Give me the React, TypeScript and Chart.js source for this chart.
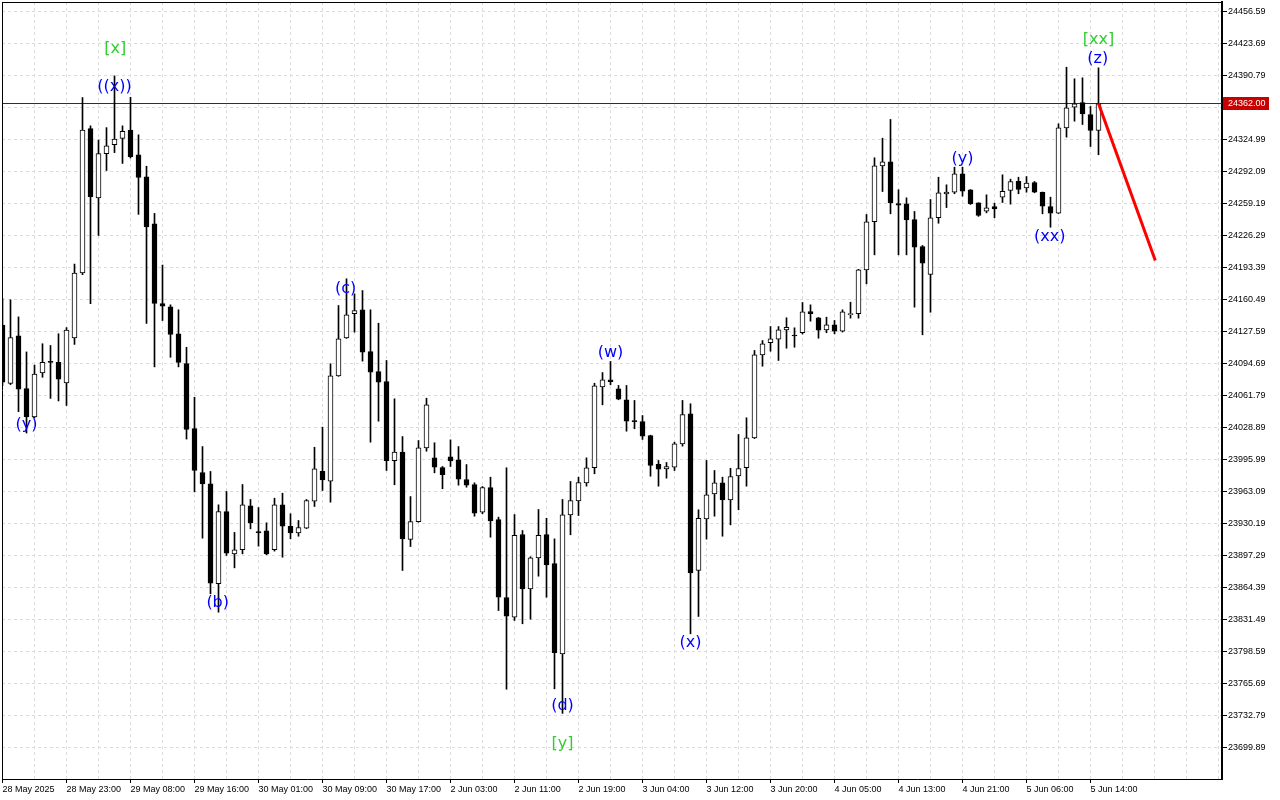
import React, { useEffect, useRef } from "react";
import { Chart, registerables } from "chart.js";

Chart.register(...registerables);

// ---- data (hourly candles, index 0 = first visible bar) ----
const opens = [
  24134.2, 24074.2, 24123.1, 24068.8, 24039.8, 24084.9, 24096.5, 24095.9, 24074.6, 24120.9,
  24187.7, 24336.1, 24264.8, 24310.4, 24319.8, 24326.1, 24334.6, 24309.3, 24286.5, 24238.4,
  24156.2, 24152.9, 24125.3, 24094.5, 24027.7, 23982.6, 23971.0, 23868.2, 23942.5, 23899.0,
  23903.2, 23948.4, 23922.0, 23922.7, 23903.2, 23949.4, 23927.4, 23920.6, 23925.4, 23953.1,
  23983.7, 23973.7, 24082.0, 24121.1, 24145.8, 24149.9, 24107.0, 24086.5, 24076.2, 23994.9,
  24003.5, 23913.7, 23932.2, 24008.0, 23997.7, 23987.7, 23998.8, 23995.7, 23975.4, 23970.3,
  23941.8, 23967.2, 23934.3, 23854.1, 23833.9, 23918.9, 23863.0, 23894.9, 23918.9, 23889.1,
  23796.2, 23939.1, 23953.5, 23972.0, 23987.5, 24070.7, 24078.0, 24068.7, 24057.4, 24035.5,
  24035.1, 24020.7, 23990.9, 23986.3, 23988.1, 24012.1, 24043.0, 23881.9, 23935.0, 23960.7,
  23972.0, 23954.5, 23979.2, 23987.5, 24018.3, 24103.6, 24116.0, 24119.7, 24129.3, 24124.0,
  24126.3, 24148.0, 24141.7, 24129.3, 24134.5, 24127.9, 24145.0, 24145.8, 24191.0, 24240.4,
  24297.9, 24302.1, 24259.0, 24258.9, 24242.7, 24215.0, 24186.2, 24244.5, 24269.0, 24270.8,
  24289.7, 24273.3, 24259.9, 24251.3, 24256.1, 24265.7, 24272.6, 24282.1, 24275.3, 24280.8,
  24270.8, 24256.1, 24249.2, 24337.0, 24358.2, 24363.0, 24350.7, 24334.2,
];
const highs = [
  24161.5, 24160.2, 24142.6, 24106.6, 24093.0, 24115.0, 24113.2, 24125.3, 24131.6, 24196.9,
  24368.1, 24339.0, 24324.4, 24337.2, 24390.4, 24339.0, 24368.4, 24329.8, 24297.5, 24249.0,
  24195.9, 24155.0, 24149.9, 24111.3, 24060.0, 24009.3, 23983.7, 23949.4, 23963.1, 23921.0,
  23970.3, 23954.9, 23946.6, 23930.9, 23956.2, 23961.3, 23940.2, 23933.3, 23954.9, 24008.6,
  24029.2, 24094.4, 24154.3, 24181.8, 24166.3, 24169.7, 24149.9, 24136.1, 24097.8, 24058.4,
  24019.6, 23957.9, 24015.5, 24059.0, 24013.2, 23988.8, 24016.2, 24009.3, 23990.8, 23972.0,
  23968.2, 23977.8, 23936.7, 23987.5, 23939.4, 23923.0, 23896.0, 23944.6, 23935.6, 23914.4,
  23954.9, 23973.4, 23977.8, 23997.7, 24074.4, 24085.4, 24096.8, 24072.1, 24072.1, 24056.7,
  24041.2, 24021.0, 23995.0, 23992.9, 24013.8, 24056.7, 24053.3, 23944.3, 23995.0, 23984.7,
  23977.8, 23987.0, 24021.7, 24038.9, 24108.1, 24118.3, 24132.7, 24132.7, 24141.7, 24131.4,
  24157.4, 24155.0, 24142.0, 24142.3, 24138.9, 24149.9, 24157.7, 24191.5, 24247.9, 24306.2,
  24326.3, 24345.6, 24273.3, 24265.0, 24251.0, 24216.0, 24263.3, 24286.2, 24278.4, 24296.5,
  24296.5, 24273.5, 24260.0, 24268.1, 24259.5, 24288.7, 24284.2, 24286.2, 24286.9, 24281.8,
  24271.0, 24265.7, 24341.1, 24399.3, 24387.4, 24388.4, 24358.9, 24398.7,
];
const lows = [
  24072.0, 24073.0, 24045.2, 24023.2, 24039.0, 24080.5, 24058.8, 24056.2, 24051.5, 24114.3,
  24186.0, 24156.2, 24226.3, 24293.1, 24311.5, 24300.4, 24306.0, 24248.0, 24135.9, 24091.2,
  24138.9, 24101.1, 24091.2, 24017.0, 23962.7, 23915.1, 23857.9, 23839.0, 23897.3, 23884.6,
  23899.0, 23924.7, 23906.9, 23898.0, 23901.8, 23895.5, 23914.4, 23917.1, 23925.0, 23947.7,
  23964.1, 23952.1, 24081.5, 24120.5, 24126.9, 24097.1, 24013.8, 24035.4, 23984.7, 23970.0,
  23881.9, 23906.5, 23931.5, 24004.5, 23982.3, 23965.9, 23988.8, 23969.6, 23967.5, 23937.7,
  23940.2, 23916.1, 23840.7, 23759.8, 23830.5, 23827.1, 23831.8, 23876.0, 23854.4, 23760.2,
  23735.0, 23918.6, 23938.4, 23968.6, 23981.3, 24052.2, 24072.8, 24057.4, 24025.1, 24027.6,
  24016.6, 23978.8, 23968.6, 23976.8, 23984.7, 24009.7, 23816.8, 23834.6, 23914.1, 23937.7,
  23917.1, 23928.8, 23944.3, 23968.6, 24017.5, 24091.9, 24107.3, 24097.8, 24110.4, 24111.4,
  24125.0, 24138.2, 24120.7, 24126.3, 24125.2, 24127.0, 24141.3, 24141.3, 24176.6, 24206.4,
  24271.5, 24248.6, 24206.4, 24206.4, 24152.6, 24124.2, 24147.4, 24238.9, 24255.0, 24269.2,
  24266.7, 24258.2, 24246.0, 24249.6, 24244.5, 24260.2, 24258.5, 24269.2, 24270.8, 24270.2,
  24248.6, 24234.8, 24249.0, 24327.4, 24343.8, 24340.4, 24317.8, 24309.3,
];
const closes = [
  24075.4, 24121.3, 24068.4, 24039.8, 24083.8, 24095.9, 24095.9, 24078.7, 24129.0, 24187.7,
  24334.6, 24266.3, 24310.4, 24318.4, 24325.4, 24333.5, 24307.4, 24286.1, 24235.1, 24156.5,
  24153.6, 24124.5, 24095.9, 24026.9, 23984.7, 23971.0, 23868.8, 23942.5, 23899.7, 23903.2,
  23949.4, 23930.9, 23920.6, 23899.0, 23949.4, 23927.4, 23920.6, 23926.1, 23953.8, 23986.4,
  23975.1, 24082.0, 24120.1, 24144.8, 24149.0, 24106.3, 24085.8, 24075.5, 23994.9, 24003.5,
  23914.4, 23932.2, 24008.0, 24052.2, 23988.1, 23980.3, 23994.6, 23975.7, 23969.6, 23940.8,
  23967.2, 23932.9, 23854.4, 23834.9, 23917.9, 23863.0, 23894.9, 23917.9, 23887.7, 23797.3,
  23939.1, 23953.8, 23972.3, 23987.5, 24071.8, 24077.9, 24076.0, 24058.0, 24035.4, 24035.0,
  24020.0, 23989.8, 23986.0, 23988.8, 24012.1, 24042.3, 23879.5, 23935.6, 23959.7, 23972.0,
  23954.5, 23978.5, 23986.7, 24018.3, 24103.6, 24114.9, 24120.1, 24129.3, 24132.0, 24123.0,
  24147.8, 24146.0, 24128.9, 24134.5, 24127.9, 24147.8, 24146.0, 24191.0, 24240.4, 24297.9,
  24302.1, 24259.9, 24257.5, 24242.4, 24214.3, 24197.8, 24244.5, 24270.2, 24271.0, 24289.7,
  24271.8, 24258.9, 24246.9, 24254.8, 24253.7, 24271.8, 24281.8, 24273.6, 24280.1, 24270.8,
  24256.4, 24249.2, 24337.0, 24357.6, 24361.7, 24351.4, 24334.2, 24362.0,
];

// time-axis labels, one every 8 bars
const timeLabels = [
  "28 May 2025", "28 May 23:00", "29 May 08:00", "29 May 16:00", "30 May 01:00", "30 May 09:00",
  "30 May 17:00", "2 Jun 03:00", "2 Jun 11:00", "2 Jun 19:00", "3 Jun 04:00", "3 Jun 12:00",
  "3 Jun 20:00", "4 Jun 05:00", "4 Jun 13:00", "4 Jun 21:00", "5 Jun 06:00", "5 Jun 14:00",
];

// price-axis tick labels
const priceTicks = [
  24456.59, 24423.69, 24390.79, 24357.89, 24324.99, 24292.09, 24259.19, 24226.29, 24193.39,
  24160.49, 24127.59, 24094.69, 24061.79, 24028.89, 23995.99, 23963.09, 23930.19, 23897.29,
  23864.39, 23831.49, 23798.59, 23765.69, 23732.79, 23699.89,
];

const currentPrice = 24362.0;

// forecast arrow (red line)
const forecastIndex = [137, 144.1];
const forecastPrice = [24362.0, 24200.6];

// Elliott wave labels
const waveTexts = ["[x]", "((x))", "(y)", "(b)", "(c)", "(w)", "(d)", "[y]", "(x)", "(y)", "(xx)", "(z)", "[xx]"];
const waveIndex = [14.1, 14, 3, 26.9, 42.9, 76, 70, 70, 86, 120, 130.9, 136.9, 137];
const wavePrice = [24418.5, 24379.5, 24032.0, 23849.0, 24171.8, 24106.0, 23743.1, 23704.0, 23807.8, 24305.5, 24225.3, 24408.3, 24427.8];
const waveIsGreen = [true, false, false, false, false, false, false, true, false, false, false, false, true];

// ---- layout constants ----
const AREA_LEFT = 2;
const AREA_TOP = 2;
const AREA_RIGHT = 1222;
const AREA_BOTTOM = 779;
const PX_PER_BAR = 8;
const PRICE_PER_PX = 32.9 / 32;
const REF_ROW = 11.5; // pixel centre of the first price tick

const xMin = -0.0625;
const xMax = xMin + (AREA_RIGHT - AREA_LEFT) / PX_PER_BAR;
const yMax = priceTicks[0] + (REF_ROW - AREA_TOP) * PRICE_PER_PX;
const yMin = priceTicks[0] - (AREA_BOTTOM - REF_ROW) * PRICE_PER_PX;

const AXIS_FONT = { family: '"Liberation Sans", Arial, sans-serif', size: 9 };
const GRID_COLOR = "#dcdcdc";

const overlayPlugin = {
  id: "overlay",
  afterDraw(chart: any) {
    const { ctx, chartArea, scales } = chart;
    const xs = scales.x;
    const ys = scales.y;
    ctx.save();
    // frame (top and left)
    ctx.strokeStyle = "#000";
    ctx.lineWidth = 1;
    ctx.beginPath();
    ctx.moveTo(chartArea.left, chartArea.top + 0.5);
    ctx.lineTo(chartArea.right, chartArea.top + 0.5);
    ctx.moveTo(chartArea.left + 0.5, chartArea.top);
    ctx.lineTo(chartArea.left + 0.5, chartArea.bottom);
    ctx.stroke();

    // wave labels
    ctx.textAlign = "center";
    ctx.textBaseline = "middle";
    ctx.font = '16px "DejaVu Sans", sans-serif';
    for (let i = 0; i < waveTexts.length; i++) {
      ctx.fillStyle = waveIsGreen[i] ? "#32cd32" : "#0000ff";
      ctx.fillText(waveTexts[i], xs.getPixelForValue(waveIndex[i]), ys.getPixelForValue(wavePrice[i]));
    }

    // current price tag
    const py = Math.floor(ys.getPixelForValue(currentPrice));
    ctx.fillStyle = "#c80000";
    ctx.fillRect(chartArea.right + 1, py - 6, 46, 13);
    ctx.fillStyle = "#ffffff";
    ctx.font = '9px "Liberation Sans", Arial, sans-serif';
    ctx.textAlign = "left";
    ctx.fillText(currentPrice.toFixed(2), chartArea.right + 6, py + 1);
    ctx.restore();
  },
};

export default function App() {
  const canvasRef = useRef<HTMLCanvasElement | null>(null);

  useEffect(() => {
    const canvas = canvasRef.current;
    if (!canvas) return;

    const wickData = lows.map((l, i) => ({ x: i, y: [l, highs[i]] }));
    const bodyData = opens.map((o, i) => ({ x: i, y: [o, closes[i]] }));
    const bodyColors = opens.map((o, i) => (closes[i] >= o ? "#ffffff" : "#000000"));

    const chart = new Chart(canvas, {
      type: "bar",
      data: {
        datasets: [
          {
            type: "line",
            label: "price",
            data: [
              { x: xMin - 1, y: currentPrice },
              { x: xMax + 1, y: currentPrice },
            ],
            borderColor: "#a00000",
            borderWidth: 1,
            pointRadius: 0,
            order: 5,
          } as any,
          {
            label: "wick",
            data: wickData as any,
            backgroundColor: "#000000",
            barThickness: 1,
            grouped: false,
            order: 3,
          } as any,
          {
            label: "body",
            data: bodyData as any,
            backgroundColor: bodyColors,
            borderColor: "#000000",
            borderWidth: 1,
            borderSkipped: false,
            barThickness: 5,
            minBarLength: 1,
            grouped: false,
            order: 2,
          } as any,
          {
            type: "line",
            label: "forecast",
            data: forecastIndex.map((x, i) => ({ x, y: forecastPrice[i] })),
            borderColor: "#ff0000",
            borderWidth: 3,
            pointRadius: 0,
            order: 0,
          } as any,
        ],
      },
      options: {
        animation: false,
        responsive: true,
        maintainAspectRatio: false,
        devicePixelRatio: 1,
        layout: { padding: { left: AREA_LEFT, top: AREA_TOP, right: 0, bottom: 0 } },
        plugins: { legend: { display: false }, tooltip: { enabled: false } },
        scales: {
          x: {
            type: "linear",
            offset: false,
            min: xMin,
            max: xMax,
            afterBuildTicks: (scale: any) => {
              const t: any[] = [];
              for (let v = 0; v <= xMax; v += 4) t.push({ value: v });
              scale.ticks = t;
            },
            afterFit: (scale: any) => {
              scale.height = 800 - AREA_BOTTOM;
              scale.paddingLeft = 0;
              scale.paddingRight = 0;
            },
            ticks: {
              autoSkip: false,
              maxRotation: 0,
              minRotation: 0,
              align: "start",
              padding: 1,
              color: "#000",
              font: AXIS_FONT,
              callback: (v: any) => {
                const n = Number(v);
                return n % 8 === 0 && timeLabels[n / 8] ? timeLabels[n / 8] : "";
              },
            },
            grid: {
              offset: false,
              color: GRID_COLOR,
              lineWidth: 1,
              drawTicks: true,
              tickLength: 4,
              tickBorderDash: [],
              tickColor: (ctx: any) =>
                ctx.tick && ctx.tick.value % 8 === 0 && ctx.tick.value / 8 < timeLabels.length ? "#000" : "rgba(0,0,0,0)",
            },
            border: { display: true, color: "#000", width: 1, dash: [3, 3] },
          },
          y: {
            type: "linear",
            position: "right",
            min: yMin,
            max: yMax,
            afterBuildTicks: (scale: any) => {
              scale.ticks = priceTicks.map((v) => ({ value: v }));
            },
            afterFit: (scale: any) => {
              scale.width = 1280 - AREA_RIGHT;
              scale.paddingTop = 0;
              scale.paddingBottom = 0;
            },
            ticks: {
              padding: 1,
              color: "#000",
              font: AXIS_FONT,
              callback: (v: any) => Number(v).toFixed(2),
            },
            grid: {
              color: GRID_COLOR,
              lineWidth: 1,
              drawTicks: true,
              tickLength: 5,
              tickColor: "#000",
              tickBorderDash: [],
            },
            border: { display: true, color: "#000", width: 2, dash: [3, 3] },
          },
        },
      },
      plugins: [overlayPlugin],
    });

    return () => chart.destroy();
  }, []);

  return (
    <div style={{ position: "fixed", left: 0, top: 0, width: 1280, height: 800, background: "#fff" }}>
      <canvas ref={canvasRef} />
    </div>
  );
}
